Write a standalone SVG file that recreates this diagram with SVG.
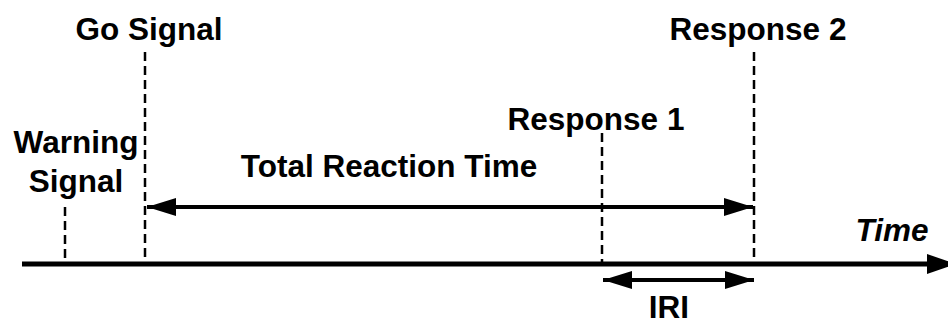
<svg xmlns="http://www.w3.org/2000/svg" width="948" height="322" viewBox="0 0 948 322">
<style>
text{font-family:"Liberation Sans",Arial,sans-serif;font-weight:bold;font-size:31.5px;fill:#000;text-anchor:middle}
.dash{stroke:#000;stroke-width:2.5;stroke-dasharray:9 5;fill:none}
.line{stroke:#000;stroke-width:4;fill:none}
.axis{stroke:#000;stroke-width:5;fill:none}
</style>
<defs>
<marker id="ah" viewBox="0 0 29 18" refX="29" refY="9" markerWidth="29" markerHeight="18" markerUnits="userSpaceOnUse" orient="auto-start-reverse">
<path d="M0,0 L29,9 L0,18 Z" fill="#000"/>
</marker>
<marker id="ahx" viewBox="0 0 29 20" refX="29" refY="10" markerWidth="29" markerHeight="20" markerUnits="userSpaceOnUse" orient="auto">
<path d="M0,0 L29,10 L0,20 Z" fill="#000"/>
</marker>
</defs>
<g id="connectors">
<line class="axis" x1="22" y1="264" x2="956" y2="264" marker-end="url(#ahx)"/>
<line class="line" x1="147" y1="207" x2="753" y2="207" marker-start="url(#ah)" marker-end="url(#ah)"/>
<line class="line" x1="603" y1="280" x2="754" y2="280" marker-start="url(#ah)" marker-end="url(#ah)"/>
</g>
<g id="warning">
<line class="dash" x1="65" y1="207" x2="65" y2="264"/>
<text x="76" y="153">Warning</text>
<text x="76" y="192">Signal</text>
</g>
<g id="go">
<line class="dash" x1="145" y1="52" x2="145" y2="264"/>
<text x="149" y="40">Go Signal</text>
</g>
<g id="response1">
<line class="dash" x1="602" y1="133" x2="602" y2="264"/>
<text x="596" y="130">Response 1</text>
</g>
<g id="response2">
<line class="dash" x1="754" y1="52" x2="754" y2="264"/>
<text x="758" y="40">Response 2</text>
</g>
<g id="total">
<text x="389" y="177">Total Reaction Time</text>
</g>
<g id="iri">
<text x="669" y="318">IRI</text>
</g>
<g id="time">
<text x="892" y="241" font-style="italic">Time</text>
</g>
</svg>
